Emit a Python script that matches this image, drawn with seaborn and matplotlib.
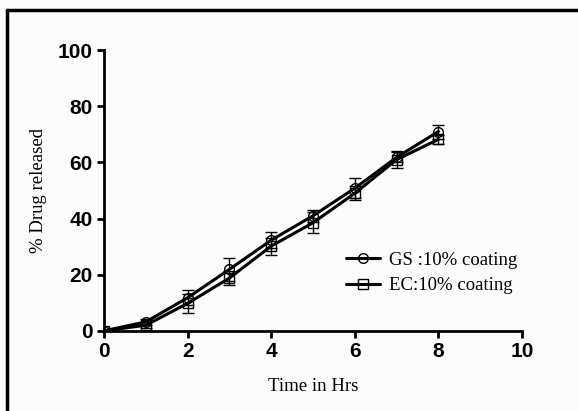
import numpy as np
import pandas as pd
import seaborn as sns
import matplotlib.pyplot as plt
from matplotlib.lines import Line2D

# Données
time_hrs = [0, 1, 2, 3, 4, 5, 6, 7, 8]
gs_release = [0, 3.2, 11.8, 21.9, 32.3, 41.0, 50.8, 61.8, 71.0]
gs_err = [0, 1.0, 2.7, 4.0, 2.8, 2.2, 3.5, 1.8, 2.5]
ec_release = [0, 2.0, 9.8, 18.8, 30.2, 38.5, 49.0, 61.0, 68.2]
ec_err = [0, 1.0, 3.5, 2.5, 3.0, 3.8, 2.5, 3.0, 1.5]
series_names = ["GS :10% coating", "EC:10% coating"]

df = pd.DataFrame({
    "time": time_hrs * 2,
    "release": gs_release + ec_release,
    "err": gs_err + ec_err,
    "serie": [series_names[0]] * len(time_hrs) + [series_names[1]] * len(time_hrs),
})

sns.set_style("ticks")
plt.rcParams["font.family"] = ["Liberation Sans", "DejaVu Sans"]
plt.rcParams["text.color"] = "black"
plt.rcParams["axes.labelcolor"] = "black"
plt.rcParams["xtick.color"] = "black"
plt.rcParams["ytick.color"] = "black"

fig = plt.figure(figsize=(5.78, 4.11), dpi=100)
fig.patch.set_facecolor("#fcfcfc")
ax = fig.add_axes([0.180, 0.195, 0.723, 0.683])
ax.set_facecolor("#fcfcfc")

markers = {series_names[0]: "o", series_names[1]: "s"}
sns.lineplot(data=df, x="time", y="release", hue="serie", style="serie",
             markers=markers, dashes=False, palette=["black", "black"],
             markersize=7, markerfacecolor="none", markeredgecolor="black",
             markeredgewidth=1.0, linewidth=2.2, legend=False, ax=ax)

for name in series_names:
    sub = df[df["serie"] == name]
    ax.errorbar(sub["time"], sub["release"], yerr=sub["err"], fmt="none",
                ecolor="black", elinewidth=1.0, capsize=4, capthick=1.0)

ax.set_xlim(0, 10)
ax.set_ylim(0, 100)
ax.set_xticks([0, 2, 4, 6, 8, 10])
ax.set_yticks([0, 20, 40, 60, 80, 100])
for lab in ax.get_xticklabels() + ax.get_yticklabels():
    lab.set_fontweight("bold")
    lab.set_fontsize(15)
ax.tick_params(width=2, length=5, color="black", labelcolor="black", pad=3)
sns.despine(ax=ax)
for side in ["left", "bottom"]:
    ax.spines[side].set_linewidth(2)
    ax.spines[side].set_color("black")

serif = ["Liberation Serif", "DejaVu Serif"]
ax.set_xlabel("Time in Hrs", family=serif, fontsize=13.5, labelpad=12)
ax.set_ylabel("% Drug released", family=serif, fontsize=13.5, labelpad=8)

handles = [
    Line2D([], [], color="black", lw=2.2, marker=m, markersize=7,
           markerfacecolor="none", markeredgecolor="black")
    for m in ["o", "s"]
]
ax.legend(handles, series_names, loc="lower right", bbox_to_anchor=(1.03, 0.07),
          frameon=False, prop={"family": serif, "size": 13.5},
          handlelength=1.8, handletextpad=0.5, labelspacing=0.45)

# Cadre extérieur (haut et gauche seulement)
fig.add_artist(Line2D([0.012, 1.0], [0.976, 0.976], color="black", lw=2.5,
                      transform=fig.transFigure))
fig.add_artist(Line2D([0.012, 0.012], [0.0, 0.976], color="black", lw=2.5,
                      transform=fig.transFigure))

fig.savefig("out.png", dpi=100, facecolor=fig.get_facecolor())
